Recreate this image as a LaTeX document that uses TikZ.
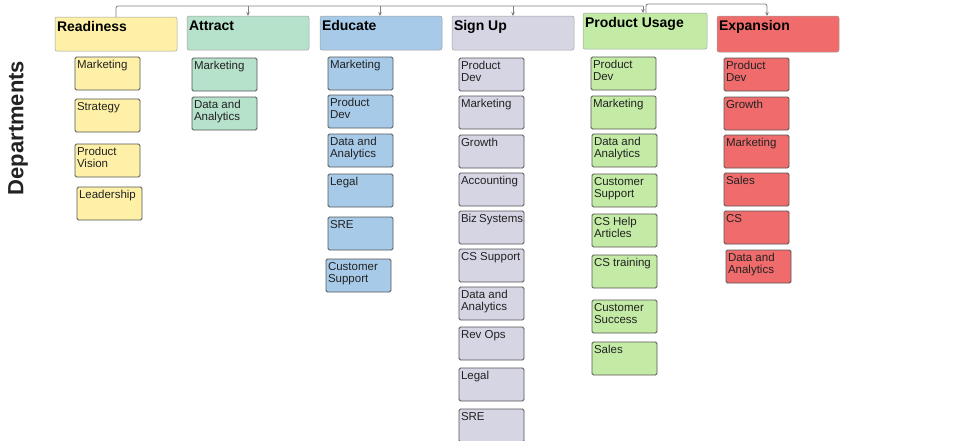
\documentclass[tikz,border=0pt]{standalone}
\usepackage{fontspec}
\setmainfont{Liberation Sans}
\usetikzlibrary{arrows.meta}
\definecolor{cRead}{HTML}{FEF1A7}
\definecolor{cAttr}{HTML}{B6E1CB}
\definecolor{cEdu}{HTML}{A7CAE9}
\definecolor{cSign}{HTML}{D6D5E4}
\definecolor{cUse}{HTML}{C3EBA5}
\definecolor{cExp}{HTML}{F06B6B}
\definecolor{subborder}{HTML}{555555}
\definecolor{headborder}{HTML}{A0A0A0}
\definecolor{textdark}{HTML}{222222}
\definecolor{conncol}{HTML}{808080}
\newcommand\subtxt[1]{\parbox[t][26pt][t]{61pt}{\raggedright\hyphenpenalty=10000\exhyphenpenalty=10000\hbadness=10000\hfuzz=20pt\strut #1}}
\newcommand\headtxt[3]{\parbox[t][#2][t]{#1}{\strut #3}}
\begin{document}
\begin{tikzpicture}[x=1pt,y=-1pt,
  sub/.style={draw=subborder, line width=0.9pt, rounded corners=1.5pt, inner xsep=2pt, inner ysep=3.5pt,
    anchor=north west, outer sep=0pt, text=textdark, font=\fontsize{11.5}{12}\selectfont},
  head/.style={draw=headborder, line width=0.5pt, rounded corners=2pt, inner xsep=2pt, inner ysep=3pt,
    anchor=north west, outer sep=0pt, text=black, font=\fontsize{14}{16}\selectfont\bfseries},
  conn/.style={draw=conncol, line width=0.8pt, rounded corners=2pt},
  arr/.style={-{Stealth[length=4pt,width=3.5pt]}}
]
\useasboundingbox (0,0) rectangle (953,440);

% side label
\node[rotate=90, font=\fontsize{22}{24}\selectfont\bfseries, text=textdark] (dept) at (18,128) {Departments};

% headers
\node[head, fill=cRead] (hRead) at (55,17) {\headtxt{118pt}{28pt}{Readiness}};
\node[head, fill=cAttr] (hAttr) at (187,16) {\headtxt{118pt}{28pt}{Attract}};
\node[head, fill=cEdu]  (hEdu)  at (320,16) {\headtxt{118pt}{28pt}{Educate}};
\node[head, fill=cSign] (hSign) at (452,16) {\headtxt{118pt}{28pt}{Sign Up}};
\node[head, fill=cUse]  (hUse)  at (583,13) {\headtxt{120pt}{30pt}{Product Usage}};
\node[head, fill=cExp]  (hExp)  at (717,16) {\headtxt{118pt}{30pt}{Expansion}};

% connectors
\coordinate (bA) at (248,6);
\coordinate (bE) at (380,6);
\coordinate (bS) at (513,6);
\coordinate (bU) at (643,6);
\coordinate (bU2) at (646,4);
\coordinate (bX) at (767,4);
\draw[conn] (116,17) |- (bU);
\draw[conn,arr] (bA) -- (bA |- hAttr.north);
\draw[conn,arr] (bE) -- (bE |- hEdu.north);
\draw[conn,arr] (bS) -- (bS |- hSign.north);
\draw[conn,arr] (bU) -- (bU |- hUse.north);
\draw[conn,arr] (bU2 |- hUse.north) -- (bU2) -- (bX) -- (bX |- hExp.north);

% Readiness
\node[sub, fill=cRead] (r1) at (75,57)  {\subtxt{Marketing}};
\node[sub, fill=cRead] (r2) at (75,99)  {\subtxt{Strategy}};
\node[sub, fill=cRead] (r3) at (75,144) {\subtxt{Product\\Vision}};
\node[sub, fill=cRead] (r4) at (77,187) {\subtxt{Leadership}};

% Attract
\node[sub, fill=cAttr] (a1) at (192,58) {\subtxt{Marketing}};
\node[sub, fill=cAttr] (a2) at (192,97) {\subtxt{Data~and\\Analytics}};

% Educate
\node[sub, fill=cEdu] (e1) at (328,57)  {\subtxt{Marketing}};
\node[sub, fill=cEdu] (e2) at (328,95)  {\subtxt{Product\\Dev}};
\node[sub, fill=cEdu] (e3) at (328,134) {\subtxt{Data~and\\Analytics}};
\node[sub, fill=cEdu] (e4) at (328,174) {\subtxt{Legal}};
\node[sub, fill=cEdu] (e5) at (328,217) {\subtxt{SRE}};
\node[sub, fill=cEdu] (e6) at (326,259) {\subtxt{Customer\\Support}};

% Sign Up
\node[sub, fill=cSign] (s1)  at (459,58)  {\subtxt{Product\\Dev}};
\node[sub, fill=cSign] (s2)  at (459,96)  {\subtxt{Marketing}};
\node[sub, fill=cSign] (s3)  at (459,135) {\subtxt{Growth}};
\node[sub, fill=cSign] (s4)  at (459,173) {\subtxt{Accounting}};
\node[sub, fill=cSign] (s5)  at (459,211) {\subtxt{Biz~Systems}};
\node[sub, fill=cSign] (s6)  at (459,249) {\subtxt{CS~Support}};
\node[sub, fill=cSign] (s7)  at (459,287) {\subtxt{Data~and\\Analytics}};
\node[sub, fill=cSign] (s8)  at (459,327) {\subtxt{Rev~Ops}};
\node[sub, fill=cSign] (s9)  at (459,368) {\subtxt{Legal}};
\node[sub, fill=cSign] (s10) at (459,409) {\subtxt{SRE}};

% Product Usage
\node[sub, fill=cUse] (u1) at (591,57)  {\subtxt{Product\\Dev}};
\node[sub, fill=cUse] (u2) at (591,96)  {\subtxt{Marketing}};
\node[sub, fill=cUse] (u3) at (592,134) {\subtxt{Data~and\\Analytics}};
\node[sub, fill=cUse] (u4) at (592,174) {\subtxt{Customer\\Support}};
\node[sub, fill=cUse] (u5) at (592,214) {\subtxt{CS~Help\\Articles}};
\node[sub, fill=cUse] (u6) at (592,255) {\subtxt{CS~training}};
\node[sub, fill=cUse] (u7) at (592,300) {\subtxt{Customer\\Success}};
\node[sub, fill=cUse] (u8) at (592,342) {\subtxt{Sales}};

% Expansion
\node[sub, fill=cExp] (x1) at (724,58)  {\subtxt{Product\\Dev}};
\node[sub, fill=cExp] (x2) at (724,97)  {\subtxt{Growth}};
\node[sub, fill=cExp] (x3) at (724,135) {\subtxt{Marketing}};
\node[sub, fill=cExp] (x4) at (724,173) {\subtxt{Sales}};
\node[sub, fill=cExp] (x5) at (724,211) {\subtxt{CS}};
\node[sub, fill=cExp] (x6) at (726,250) {\subtxt{Data~and\\Analytics}};
\end{tikzpicture}
\end{document}
